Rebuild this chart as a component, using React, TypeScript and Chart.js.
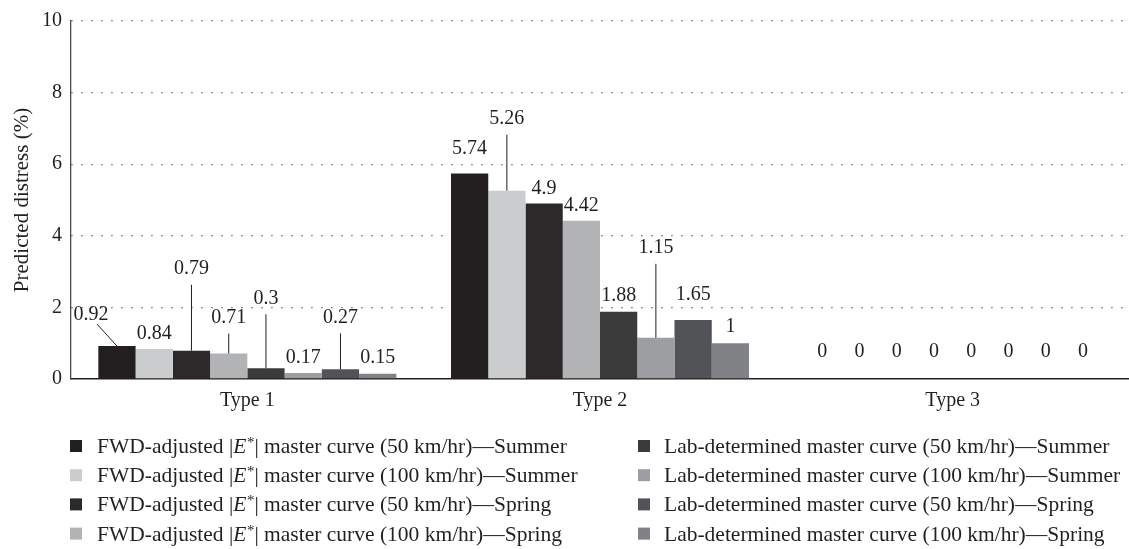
import React, { useEffect, useRef } from "react";
import { Chart, registerables } from "chart.js";

Chart.register(...registerables);

const categories = ["Type 1", "Type 2", "Type 3"];

const seriesLabels = [
  "FWD-adjusted |E*| master curve (50 km/hr)—Summer",
  "FWD-adjusted |E*| master curve (100 km/hr)—Summer",
  "FWD-adjusted |E*| master curve (50 km/hr)—Spring",
  "FWD-adjusted |E*| master curve (100 km/hr)—Spring",
  "Lab-determined master curve (50 km/hr)—Summer",
  "Lab-determined master curve (100 km/hr)—Summer",
  "Lab-determined master curve (50 km/hr)—Spring",
  "Lab-determined master curve (100 km/hr)—Spring",
];

const fwd50Summer = [0.92, 5.74, 0];
const fwd100Summer = [0.84, 5.26, 0];
const fwd50Spring = [0.79, 4.9, 0];
const fwd100Spring = [0.71, 4.42, 0];
const lab50Summer = [0.3, 1.88, 0];
const lab100Summer = [0.17, 1.15, 0];
const lab50Spring = [0.27, 1.65, 0];
const lab100Spring = [0.15, 1, 0];

const seriesValues = [
  fwd50Summer,
  fwd100Summer,
  fwd50Spring,
  fwd100Spring,
  lab50Summer,
  lab100Summer,
  lab50Spring,
  lab100Spring,
];

const yTickValues = [0, 2, 4, 6, 8, 10];

const seriesColors = [
  "#231f20",
  "#cbcccd",
  "#2b292a",
  "#b2b3b5",
  "#3b3b3c",
  "#9d9ea1",
  "#525356",
  "#818285",
];

// value-label placement per series / category: [dx, px above bar top, leader line]
const labelPlacement = [
  [[-26, 31, 1], [0, 25, 0], [0, 27, 0]],
  [[0, 15, 0], [0, 72, 1], [0, 27, 0]],
  [[0, 82, 1], [0, 15, 0], [0, 27, 0]],
  [[0, 36, 1], [0, 15, 0], [0, 27, 0]],
  [[0, 70, 1], [0, 16, 0], [0, 27, 0]],
  [[0, 15, 0], [0, 90, 1], [0, 27, 0]],
  [[0, 52, 1], [0, 25, 0], [0, 27, 0]],
  [[0, 16, 0], [0, 16, 0], [0, 27, 0]],
];

const FONT = '"Liberation Serif", "Times New Roman", serif';
const TEXT = "#231f20";
const LEGEND_SIZE = 21.5;

const valueLabelsPlugin = {
  id: "valueLabels",
  afterDatasetsDraw(chart: any) {
    const ctx = chart.ctx;
    ctx.save();
    ctx.font = `20px ${FONT}`;
    ctx.fillStyle = TEXT;
    ctx.strokeStyle = TEXT;
    ctx.lineWidth = 1;
    ctx.textAlign = "center";
    ctx.textBaseline = "middle";
    chart.data.datasets.forEach((ds: any, i: number) => {
      const meta = chart.getDatasetMeta(i);
      meta.data.forEach((bar: any, j: number) => {
        const [dx, dy, leader] = labelPlacement[i][j];
        const lx = bar.x + dx;
        const ly = bar.y - dy;
        ctx.fillText(String(ds.data[j]), lx, ly);
        if (leader) {
          ctx.beginPath();
          if (dx !== 0) ctx.moveTo(lx + 6, ly + 9);
          else ctx.moveTo(lx, ly + 16);
          ctx.lineTo(bar.x, bar.y);
          ctx.stroke();
        }
      });
    });
    ctx.restore();
  },
};

const legendPlugin = {
  id: "columnLegend",
  afterDraw(chart: any) {
    const ctx = chart.ctx;
    const colBox = [70, 638];
    const colText = [97, 664];
    const firstRow = chart.chartArea.bottom + 67;
    const rowGap = 29.2;
    ctx.save();
    ctx.textBaseline = "alphabetic";
    ctx.textAlign = "left";
    chart.data.datasets.forEach((ds: any, i: number) => {
      const col = Math.floor(i / 4);
      const row = i % 4;
      const cy = firstRow + row * rowGap;
      ctx.fillStyle = ds.backgroundColor;
      ctx.fillRect(colBox[col], cy - 6, 12, 12);
      ctx.fillStyle = TEXT;
      const base = cy + 7;
      let x = colText[col];
      const label: string = ds.label;
      const idx = label.indexOf("E*");
      if (idx >= 0) {
        const pre = label.slice(0, idx);
        const post = label.slice(idx + 2);
        ctx.font = `${LEGEND_SIZE}px ${FONT}`;
        ctx.fillText(pre, x, base);
        x += ctx.measureText(pre).width;
        ctx.font = `italic ${LEGEND_SIZE}px ${FONT}`;
        ctx.fillText("E", x, base);
        x += ctx.measureText("E").width + 0.5;
        ctx.font = `15px ${FONT}`;
        ctx.fillText("*", x, base - 6);
        x += ctx.measureText("*").width;
        ctx.font = `${LEGEND_SIZE}px ${FONT}`;
        ctx.fillText(post, x, base);
      } else {
        ctx.font = `${LEGEND_SIZE}px ${FONT}`;
        ctx.fillText(label, x, base);
      }
    });
    ctx.restore();
  },
};

export default function App() {
  const canvasRef = useRef<HTMLCanvasElement | null>(null);

  useEffect(() => {
    if (!canvasRef.current) return;
    const chart = new Chart(canvasRef.current, {
      type: "bar",
      data: {
        labels: categories,
        datasets: seriesValues.map((vals, i) => ({
          label: seriesLabels[i],
          data: vals,
          backgroundColor: seriesColors[i],
          borderWidth: 0,
          barPercentage: 1,
          categoryPercentage: 0.845,
        })),
      },
      options: {
        responsive: false,
        animation: false,
        layout: { padding: { top: 15, right: 0, left: 0, bottom: 130 } },
        plugins: {
          legend: { display: false },
          tooltip: { enabled: false },
        },
        scales: {
          x: {
            grid: { display: false, drawTicks: false },
            border: { display: true, color: "#231f20", width: 1.5 },
            ticks: { padding: 10, color: TEXT, font: { family: FONT, size: 20 } },
            afterFit: (s: any) => {
              s.height = 40;
            },
          },
          y: {
            min: 0,
            max: 10,
            afterBuildTicks: (s: any) => {
              s.ticks = yTickValues.map((v) => ({ value: v }));
            },
            ticks: { padding: 9, color: TEXT, font: { family: FONT, size: 20 } },
            grid: {
              drawTicks: false,
              color: (c: any) => (c.tick && c.tick.value === 0 ? "rgba(0,0,0,0)" : "#555"),
              lineWidth: 1.3,
            },
            border: { display: true, color: "#4a4a4a", width: 1.3, dash: [1.3, 8.7] },
            title: {
              display: true,
              text: "Predicted distress (%)",
              color: TEXT,
              font: { family: FONT, size: 21 },
              padding: { top: 10, bottom: 0 },
            },
            afterFit: (s: any) => {
              s.width = 71;
            },
          },
        },
      },
      plugins: [valueLabelsPlugin, legendPlugin],
    });
    return () => chart.destroy();
  }, []);

  return (
    <div style={{ position: "absolute", left: 0, top: 0, width: 1129, height: 549, background: "#fff" }}>
      <canvas ref={canvasRef} width={1129} height={549} />
    </div>
  );
}
